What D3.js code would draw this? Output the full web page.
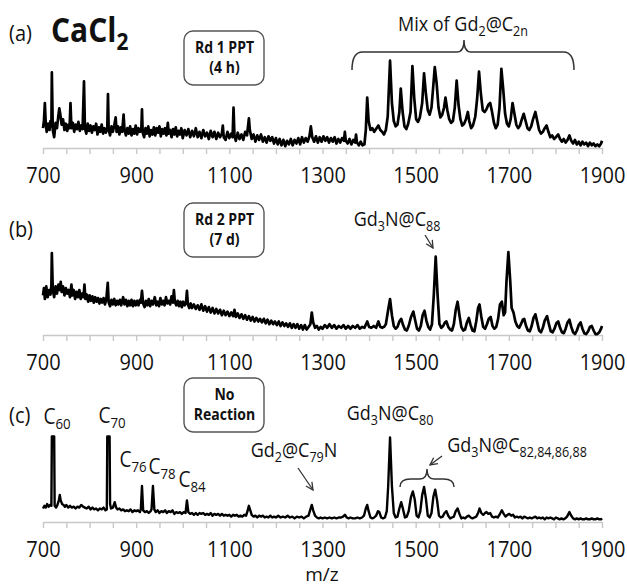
<!DOCTYPE html>
<html><head><meta charset="utf-8">
<script src="https://cdn.jsdelivr.net/npm/d3@7"></script>
<style>
html,body{margin:0;padding:0;background:#fff;}
svg{display:block;font-family:"Open Sans",sans-serif;}
</style></head>
<body>
<svg id="chart" width="627" height="586"></svg>
<script>
// ---------- DATA ----------
const xDomain = [700, 1900];
const tickLabels = [700, 900, 1100, 1300, 1500, 1700, 1900];
const minorTicks = [700,750,800,850,900,950,1000,1050,1100,1150,1200,1250,1300,1350,1400,1450,1500,1550,1600,1650,1700,1750,1800,1850,1900];
const panelLabels = ["(a)", "(b)", "(c)"];
const boxTexts = [["Rd 1 PPT", "(4 h)"], ["Rd 2 PPT", "(7 d)"], ["No", "Reaction"]];

// panel (a): Round 1 PPT, m/z vs relative intensity
const specA = [[700,22],[702,30],[704,50],[706,26],[708,18],[711,27],[714,20],[716,30],[718,24],[719,84],[721,20],[724,12],[727,28],[730,22],[733,36],[735,44],[737,38],[740,26],[743,32],[746,20],[749,27],[752,19],[755,26],[757,22],[759,50],[761,22],[764,28],[767,18],[770,26],[773,21],[776,29],[779,19],[782,25],[785,21],[788,74],[790,22],[793,16],[796,27],[799,19],[802,25],[805,17],[808,24],[811,20],[814,27],[817,15],[820,23],[823,18],[826,26],[829,16],[832,22],[835,17],[838,22],[839.5,60],[841,20],[844,14],[847,24],[850,18],[853,25],[856,34],[858,18],[861,24],[864,15],[867,23],[870,18],[873,37],[875,20],[878,14],[881,22],[884,16],[887,24],[890,14],[893,21],[896,16],[899,25],[902,15],[905,22],[908,18],[911,20],[912.5,43],[914,17],[917,12],[920,22],[923,16],[926,24],[929,13],[932,20],[935,15],[938,23],[941,14],[944,22],[947,17],[950,24],[953,13],[956,21],[959,16],[962,22],[965,14],[968,28],[970,16],[973,20],[976,12],[979,21],[982,15],[985,23],[988,13],[991,19],[994,15],[997,22],[1000,11],[1004,20],[1008,14],[1012,21],[1016,12],[1020,19],[1024,13],[1028,22],[1032,12],[1036,18],[1040,11],[1044,20],[1048,13],[1052,17],[1056,10],[1060,19],[1064,12],[1068,18],[1072,10],[1076,17],[1080,12],[1084,16],[1086,25],[1088,12],[1092,9],[1096,18],[1100,11],[1104,16],[1107,12],[1109,45],[1111,14],[1114,8],[1118,17],[1122,10],[1126,15],[1130,9],[1134,18],[1138,14],[1142,33],[1144,20],[1148,10],[1152,15],[1156,7],[1160,14],[1164,9],[1168,15],[1172,7],[1176,12],[1180,6],[1184,13],[1188,8],[1192,12],[1196,5],[1200,11],[1204,4],[1208,10],[1212,3],[1216,9],[1220,2],[1224,8],[1228,4],[1232,10],[1236,3],[1240,9],[1244,5],[1248,11],[1252,4],[1256,12],[1260,6],[1264,11],[1268,7],[1272,13],[1275,24],[1278,12],[1282,7],[1286,13],[1290,6],[1294,12],[1298,7],[1302,13],[1306,8],[1310,12],[1314,6],[1318,11],[1322,7],[1326,12],[1330,5],[1334,10],[1338,6],[1342,11],[1346,8],[1348,18],[1350,8],[1354,5],[1358,10],[1362,4],[1366,9],[1370,6],[1372,15],[1374,6],[1378,3],[1382,7],[1386,3],[1390,4],[1393,20],[1396,56],[1399,30],[1403,20],[1407,22],[1411,18],[1416,22],[1420,25],[1424,20],[1428,18],[1432,15],[1436,20],[1440,35],[1445,97],[1449,50],[1453,30],[1457,24],[1461,26],[1465,40],[1468,66],[1472,40],[1476,24],[1480,21],[1484,27],[1489,40],[1493,91],[1497,55],[1501,32],[1505,29],[1509,34],[1514,50],[1518,83],[1522,60],[1526,42],[1530,37],[1534,45],[1538,70],[1541,90],[1545,72],[1549,45],[1553,34],[1557,37],[1561,45],[1564,56],[1568,42],[1572,32],[1576,28],[1580,30],[1584,45],[1588,75],[1592,48],[1596,32],[1600,25],[1604,27],[1608,32],[1612,40],[1615,30],[1619,22],[1623,25],[1628,35],[1632,55],[1636,85],[1640,60],[1644,42],[1648,40],[1652,43],[1656,48],[1660,50],[1664,40],[1668,28],[1672,22],[1676,26],[1680,45],[1684,88],[1688,65],[1692,38],[1696,27],[1700,24],[1704,32],[1708,50],[1712,38],[1716,26],[1720,22],[1724,25],[1728,32],[1732,38],[1736,30],[1740,22],[1744,20],[1748,24],[1752,32],[1757,40],[1761,30],[1765,20],[1769,16],[1773,18],[1777,22],[1781,25],[1785,18],[1789,12],[1793,14],[1797,10],[1801,12],[1806,15],[1810,10],[1814,7],[1818,10],[1822,6],[1826,9],[1830,14],[1834,8],[1838,5],[1842,9],[1846,4],[1850,7],[1854,3],[1858,7],[1862,4],[1866,6],[1870,2],[1874,6],[1878,3],[1882,5],[1886,2],[1890,4],[1894,2],[1898,5],[1900,8]];

// panel (b): Round 2 PPT
const specB = [[700,44],[702,52],[704,40],[707,54],[710,42],[713,50],[716,45],[718,55],[719,91],[721,50],[724,42],[727,54],[730,46],[733,56],[736,50],[738,59],[740,48],[743,54],[746,44],[749,52],[752,46],[755,50],[758,42],[761,56],[763,44],[766,50],[769,40],[772,48],[775,42],[778,50],[781,40],[784,46],[787,42],[789,56],[791,40],[794,45],[797,37],[800,44],[803,38],[806,43],[809,36],[812,42],[815,37],[818,41],[821,35],[824,40],[827,36],[830,41],[833,34],[836,40],[839,58],[841,36],[844,32],[847,39],[850,34],[853,40],[856,33],[859,38],[862,34],[865,39],[868,33],[872,42],[875,34],[878,39],[881,32],[884,38],[887,33],[890,39],[893,32],[896,38],[899,33],[902,38],[905,33],[908,39],[910,36],[912.5,49],[915,35],[918,31],[921,38],[924,33],[927,40],[930,32],[933,38],[936,34],[940,42],[943,33],[946,37],[949,32],[952,41],[955,34],[958,38],[961,33],[964,42],[967,35],[970,38],[973,34],[976,43],[979,36],[981,50],[983,37],[986,33],[989,38],[992,32],[995,37],[998,31],[1001,37],[1004,33],[1007,36],[1009,49],[1011,34],[1014,30],[1017,35],[1020,30],[1024,34],[1028,29],[1032,33],[1036,28],[1040,34],[1044,27],[1048,32],[1052,26],[1056,31],[1060,25],[1064,30],[1068,24],[1072,29],[1076,24],[1080,28],[1084,22],[1088,27],[1092,22],[1096,26],[1100,21],[1104,25],[1108,21],[1111,28],[1114,20],[1118,24],[1122,19],[1126,23],[1130,18],[1134,22],[1138,17],[1142,21],[1146,16],[1150,20],[1154,15],[1158,19],[1162,15],[1166,18],[1170,14],[1174,18],[1178,13],[1182,17],[1186,12],[1190,16],[1194,12],[1198,15],[1202,11],[1206,15],[1210,10],[1214,14],[1218,10],[1222,13],[1226,9],[1230,13],[1234,8],[1238,12],[1242,8],[1246,12],[1250,7],[1254,11],[1258,6],[1262,11],[1266,6],[1270,9],[1274,12],[1277,25],[1280,14],[1284,8],[1288,10],[1292,6],[1296,9],[1300,7],[1305,11],[1310,8],[1315,12],[1320,8],[1325,11],[1330,7],[1335,10],[1340,8],[1345,11],[1350,7],[1355,10],[1360,7],[1365,10],[1370,8],[1375,11],[1380,7],[1385,9],[1390,8],[1396,15],[1400,9],[1405,8],[1410,10],[1415,8],[1420,15],[1424,9],[1428,8],[1432,9],[1436,12],[1441,28],[1445,40],[1449,22],[1453,10],[1457,7],[1461,9],[1465,15],[1469,18],[1473,11],[1477,6],[1481,5],[1485,10],[1490,20],[1495,26],[1499,16],[1503,7],[1507,5],[1511,10],[1515,22],[1519,27],[1523,16],[1527,9],[1531,6],[1535,12],[1539,45],[1543,87],[1547,45],[1551,12],[1555,8],[1559,10],[1563,14],[1566,15],[1570,9],[1574,6],[1578,5],[1582,12],[1586,28],[1590,37],[1594,22],[1598,9],[1602,5],[1606,6],[1610,14],[1614,19],[1618,11],[1622,5],[1626,4],[1630,15],[1634,30],[1637,34],[1641,20],[1645,9],[1649,7],[1653,12],[1657,18],[1661,20],[1665,10],[1669,7],[1673,9],[1677,18],[1681,34],[1685,37],[1689,22],[1692,25],[1695,60],[1699,92],[1703,60],[1706,30],[1710,25],[1714,15],[1718,10],[1722,8],[1726,12],[1730,17],[1733,18],[1737,10],[1741,5],[1745,4],[1749,10],[1753,19],[1757,23],[1761,14],[1765,5],[1769,3],[1773,8],[1777,16],[1782,21],[1786,12],[1790,4],[1794,3],[1798,7],[1802,13],[1806,15],[1810,8],[1814,3],[1818,2],[1822,7],[1826,14],[1830,17],[1834,9],[1838,3],[1842,1],[1846,5],[1850,11],[1854,14],[1858,7],[1862,2],[1866,1],[1870,4],[1874,9],[1878,10],[1882,5],[1886,1],[1890,1],[1894,3],[1898,7],[1900,10]];

// panel (c): No reaction
const specC = [[700,15],[703,18],[706,16],[709,20],[712,17],[715,19],[718,18],[719,95],[724,95],[725,18],[728,16],[731,19],[734,24],[736,30],[738,24],[741,20],[744,19],[747,17],[750,19],[754,16],[758,18],[762,16],[766,17],[770,15],[774,17],[778,16],[782,19],[786,17],[790,16],[794,15],[798,17],[802,14],[806,16],[810,14],[814,15],[818,13],[822,15],[826,14],[830,16],[834,13],[837,14],[838,95],[843,95],[844,20],[846,15],[850,16],[854,22],[857,16],[860,14],[864,15],[868,13],[872,14],[876,12],[880,13],[884,12],[888,14],[892,11],[896,13],[900,12],[904,13],[908,11],[910,14],[912.5,40],[915,13],[919,11],[923,12],[927,10],[931,12],[933,14],[936,40],[939,14],[942,11],[946,13],[950,10],[954,12],[958,11],[962,13],[966,10],[970,12],[974,11],[978,13],[982,9],[986,11],[990,10],[994,11],[998,9],[1002,11],[1006,10],[1009,24],[1012,11],[1016,9],[1020,10],[1024,8],[1028,10],[1032,8],[1036,10],[1040,9],[1044,10],[1048,8],[1052,9],[1056,8],[1060,10],[1064,7],[1068,9],[1072,8],[1076,9],[1080,7],[1084,9],[1088,7],[1092,8],[1096,7],[1100,8],[1104,6],[1108,8],[1112,7],[1116,8],[1120,6],[1124,7],[1128,6],[1132,8],[1136,7],[1139,12],[1142,18],[1145,13],[1148,8],[1152,6],[1156,7],[1160,5],[1164,7],[1168,6],[1172,7],[1176,5],[1180,6],[1184,5],[1188,7],[1192,5],[1196,6],[1200,5],[1205,7],[1210,5],[1215,6],[1220,5],[1225,7],[1230,5],[1235,6],[1240,4],[1245,6],[1250,5],[1255,6],[1260,4],[1265,6],[1270,7],[1274,14],[1277,19],[1280,13],[1284,7],[1288,5],[1292,4],[1296,5],[1300,4],[1305,5],[1310,4],[1315,5],[1320,4],[1325,5],[1330,4],[1335,5],[1340,5],[1344,6],[1348,8],[1352,5],[1356,4],[1360,5],[1365,4],[1370,4],[1375,5],[1380,4],[1385,5],[1389,7],[1393,15],[1396,19],[1399,12],[1403,5],[1407,4],[1411,5],[1415,7],[1419,12],[1422,11],[1426,5],[1430,4],[1434,5],[1438,12],[1441,40],[1445,94],[1449,40],[1453,10],[1457,5],[1461,6],[1465,15],[1469,22],[1473,14],[1477,5],[1481,6],[1485,12],[1490,28],[1494,34],[1498,25],[1502,7],[1506,5],[1510,12],[1514,30],[1518,39],[1522,26],[1526,7],[1530,5],[1534,10],[1538,28],[1542,36],[1546,24],[1550,7],[1554,5],[1558,6],[1562,10],[1566,12],[1570,7],[1574,4],[1578,5],[1582,6],[1586,12],[1590,15],[1594,9],[1598,4],[1602,5],[1606,4],[1610,6],[1614,7],[1618,5],[1622,4],[1626,5],[1630,6],[1634,10],[1637,15],[1641,10],[1645,8],[1649,10],[1652,11],[1656,9],[1660,10],[1664,6],[1668,5],[1672,6],[1676,5],[1680,8],[1685,13],[1689,9],[1693,6],[1697,8],[1701,9],[1705,7],[1709,8],[1713,5],[1717,6],[1721,5],[1725,6],[1729,4],[1733,6],[1737,5],[1741,4],[1745,5],[1749,4],[1753,5],[1757,6],[1761,4],[1765,5],[1769,4],[1773,5],[1777,3],[1781,5],[1785,4],[1789,5],[1793,4],[1797,3],[1801,5],[1805,4],[1809,3],[1813,4],[1817,3],[1821,4],[1825,6],[1830,11],[1834,7],[1838,4],[1842,3],[1846,4],[1850,3],[1854,4],[1858,3],[1862,3],[1866,4],[1870,3],[1874,3],[1878,4],[1882,3],[1886,3],[1890,4],[1894,3],[1898,3],[1900,4]];

// ---------- LAYOUT ----------
const svg = d3.select("#chart");
const x = d3.scaleLinear().domain(xDomain).range([43, 602]);
const axisYs = [148, 335, 522];
const specs = [specA, specB, specC];
const SY = 1.12; // vertical stretch of the lettering

const defs = svg.append("defs");
defs.append("marker").attr("id", "arr").attr("viewBox", "0 0 10 10")
  .attr("refX", 9).attr("refY", 5).attr("markerWidth", 7).attr("markerHeight", 7)
  .attr("orient", "auto-start-reverse")
  .append("path").attr("d", "M1,1 L9,5 L1,9").attr("fill", "none").attr("stroke", "#333").attr("stroke-width", 1.4);

function richText(g, cx, y, parts, size, opts = {}) {
  const t = g.append("text").attr("transform", `translate(${cx},${y}) scale(1,${SY})`)
    .attr("text-anchor", opts.anchor || "middle")
    .attr("font-size", size).attr("font-weight", opts.weight || "normal")
    .attr("fill", "#111");
  const sh = size * 0.24;
  let cur = 0;
  parts.forEach(p => {
    const sub = p[1];
    const target = sub ? sh : 0;
    t.append("tspan").attr("dy", target - cur).attr("font-size", sub ? size * 0.7 : size).text(p[0]);
    cur = target;
  });
  return t;
}

function brace(g, x0, x1, xc, yEnd, yMid, yTip) {
  const r = 7;
  const d = `M${x0},${yEnd} Q${x0},${yMid} ${x0 + r * 1.5},${yMid} L${xc - r},${yMid} Q${xc},${yMid} ${xc},${yTip}` +
            ` Q${xc},${yMid} ${xc + r},${yMid} L${x1 - r * 1.5},${yMid} Q${x1},${yMid} ${x1},${yEnd}`;
  g.append("path").attr("d", d).attr("fill", "none").attr("stroke", "#333").attr("stroke-width", 1.5);
}

specs.forEach((data, i) => {
  const ay = axisYs[i];
  const y = d3.scaleLinear().domain([0, 100]).range([ay, ay - 90]);
  const g = svg.append("g");

  const axis = d3.axisBottom(x).tickValues(minorTicks).tickSize(6).tickSizeOuter(0).tickPadding(0)
    .tickFormat(v => tickLabels.includes(v) ? String(v) : "");
  const ag = g.append("g").attr("transform", `translate(0,${ay})`).call(axis);
  ag.select(".domain").attr("stroke", "#c8c8c8").attr("stroke-width", 1.6);
  ag.selectAll(".tick line").attr("stroke", "#c8c8c8").attr("stroke-width", 1.4);
  ag.selectAll(".tick text").attr("font-size", 20).attr("font-family", "Open Sans, sans-serif").attr("fill", "#111")
    .attr("y", null).attr("dy", null).attr("transform", `translate(0,35) scale(1,${SY})`);

  g.append("path").datum(data)
    .attr("d", d3.line().x(d => x(d[0])).y(d => y(d[1])))
    .attr("fill", "none").attr("stroke", "#000").attr("stroke-width", i === 2 ? 2.4 : 2.7)
    .attr("stroke-linejoin", "round");

  // panel label
  g.append("text").attr("transform", `translate(9,${[41, 237, 423][i]}) scale(1,${SY})`)
    .attr("font-size", 20).attr("fill", "#111").text(panelLabels[i]);

  // rounded box
  const by = [31, 203, 378][i];
  g.append("rect").attr("x", 184).attr("y", by).attr("width", 80).attr("height", 54).attr("rx", 9)
    .attr("fill", "#fff").attr("stroke", "#555").attr("stroke-width", 1.4);
  g.append("text").attr("transform", `translate(224.5,${by + 22}) scale(1,${SY})`).attr("text-anchor", "middle").attr("font-size", 14)
    .attr("font-weight", "bold").attr("fill", "#111").text(boxTexts[i][0]);
  g.append("text").attr("transform", `translate(224.5,${by + 42}) scale(1,${SY})`).attr("text-anchor", "middle").attr("font-size", 14)
    .attr("font-weight", "bold").attr("fill", "#111").text(boxTexts[i][1]);
});

// ---- annotations ----
const ann = svg.append("g");
richText(ann, 51, 42, [["CaCl", false], ["2", true]], 30, { anchor: "start", weight: "bold" });
richText(ann, 463, 31, [["Mix of Gd", false], ["2", true], ["@C", false], ["2n", true]], 18);
brace(ann, 352, 574, 464, 70, 52, 40);

richText(ann, 397, 226, [["Gd", false], ["3", true], ["N@C", false], ["88", true]], 18);
ann.append("line").attr("x1", 425).attr("y1", 235).attr("x2", 433).attr("y2", 248)
  .attr("stroke", "#333").attr("stroke-width", 1.3).attr("marker-end", "url(#arr)");

richText(ann, 57, 424, [["C", false], ["60", true]], 19);
richText(ann, 112, 423, [["C", false], ["70", true]], 19);
richText(ann, 133, 467, [["C", false], ["76", true]], 19);
richText(ann, 162, 474, [["C", false], ["78", true]], 19);
richText(ann, 192, 487, [["C", false], ["84", true]], 19);
richText(ann, 294, 457, [["Gd", false], ["2", true], ["@C", false], ["79", true], ["N", false]], 18);
ann.append("line").attr("x1", 298).attr("y1", 468).attr("x2", 313).attr("y2", 490)
  .attr("stroke", "#333").attr("stroke-width", 1.3).attr("marker-end", "url(#arr)");
richText(ann, 390, 420, [["Gd", false], ["3", true], ["N@C", false], ["80", true]], 18);
richText(ann, 517, 452, [["Gd", false], ["3", true], ["N@C", false], ["82,84,86,88", true]], 18);
ann.append("line").attr("x1", 442).attr("y1", 456).attr("x2", 430).attr("y2", 465)
  .attr("stroke", "#333").attr("stroke-width", 1.3).attr("marker-end", "url(#arr)");
brace(ann, 400, 454, 427, 487, 479, 469);

svg.append("text").attr("x", 322).attr("y", 581).attr("text-anchor", "middle")
  .attr("font-size", 19).attr("fill", "#111").text("m/z");
</script>
</body></html>
